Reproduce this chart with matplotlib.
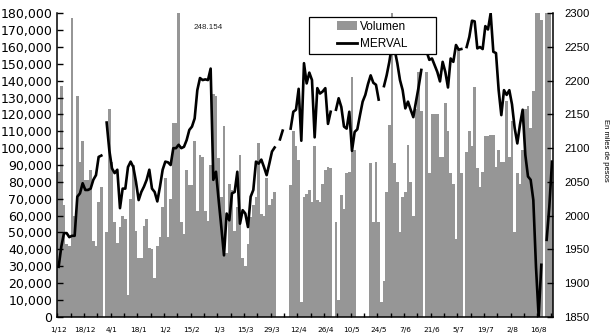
import numpy as np
import matplotlib
matplotlib.use("Agg")
import matplotlib.pyplot as plt
from matplotlib.patches import Rectangle, Patch
from matplotlib.lines import Line2D
from matplotlib.ticker import FuncFormatter

# volumen operado por rueda (miles)
volumen = [
    86, 137, 66, 43, 42, 177, 60, 131, 92, 104,
    81, 81, 87, 45, 42, 68, 77, 0, 50, 123,
    92, 56, 44, 53, 60, 58, 13, 70, 90, 51,
    35, 35, 54, 58, 41, 40, 23, 42, 47, 65,
    82, 47, 70, 115, 115, 248.154, 56, 49, 87, 78,
    78, 104, 63, 96, 95, 63, 57, 90, 132, 131,
    94, 71, 113, 38, 79, 75, 51, 65, 96, 35,
    30, 43, 59, 66, 71, 103, 61, 60, 82, 66,
    70, 74, 0, 0, 0, 0, 0, 78, 110, 101,
    93, 9, 71, 73, 75, 68, 101, 69, 68, 79,
    87, 89, 88, 0, 56, 10, 72, 64, 85, 86,
    142, 99, 0, 0, 0, 0, 0, 91, 56, 92,
    56, 9, 21, 74, 114, 190, 91, 80, 50, 71,
    74, 102, 80, 60, 123, 145, 122, 0, 145, 85,
    120, 120, 120, 95, 95, 127, 110, 85, 79, 46,
    158, 85, 0, 98, 110, 101, 136, 88, 77, 86,
    107, 107, 108, 108, 89, 99, 92, 92, 128, 95,
    116, 50, 85, 79, 99, 123, 125, 112, 134, 190,
    190, 176, 0, 190, 190, 80,
]

# indice MERVAL al cierre (nan = sin cotizacion)
nan = np.nan
merval = [
    1924, 1954, 1974, 1974, 1968, 1970, 1970, 2028, 2033, 2048,
    2038, 2038, 2040, 2053, 2060, 2087, 2089, nan, 2138, 2097,
    2070, 2063, 2068, 2011, 2040, 2040, 2072, 2080, 2072, 2050,
    2023, 2035, 2043, 2053, 2068, 2040, 2035, 2021, 2043, 2068,
    2080, 2079, 2075, 2100, 2100, 2105, 2100, 2102, 2112, 2127,
    2132, 2144, 2186, 2204, 2201, 2202, 2201, 2218, 2053, 2065,
    2023, 1983, 1941, 2003, 1993, 2033, 2035, 2065, 1988, 2008,
    2003, 1983, 2028, 2038, 2080, 2077, 2083, 2072, 2060, 2077,
    2095, 2101, nan, 2113, 2126, nan, nan, 2129, 2154, 2157,
    2188, 2111, 2226, 2196, 2212, 2201, 2116, 2189, 2181, 2184,
    2189, 2136, 2154, nan, 2157, 2174, 2161, 2132, 2129, 2154,
    2096, 2124, 2128, 2149, 2169, 2179, 2195, 2208, 2197, 2194,
    2172, nan, 2192, 2208, 2228, 2253, 2246, 2226, 2201, 2186,
    2159, 2169, 2157, 2146, 2169, 2191, 2216, nan, 2243, 2231,
    2233, 2223, 2213, 2199, 2228, 2213, 2190, 2233, 2228, 2253,
    2246, 2247, nan, 2250, 2265, 2289, 2288, 2248, 2250, 2247,
    2281, 2276, 2300, 2243, 2241, 2186, 2149, 2186, 2179, 2186,
    2165, 2130, 2107, 2135, 2157, 2090, 2058, 2053, 2023, 1924,
    1850, 1927, nan, 1964, 2013, 2080,
]

fechas = ["1/12", "18/12", "4/1", "18/1", "1/2", "15/2", "1/3", "15/3", "29/3",
          "12/4", "26/4", "10/5", "24/5", "7/6", "21/6", "5/7", "19/7", "2/8", "16/8"]
pos_fechas = list(range(0, 10 * len(fechas), 10))

gris = "#969696"
n = len(volumen)
x = np.arange(n)
vol = np.array(volumen) * 1000

fig = plt.figure(figsize=(6.11, 3.36), dpi=100)
ax = fig.add_axes([0.0938, 0.0574, 0.8118, 0.9030])

ax.bar(x, vol, width=1.0, color=gris, linewidth=0, zorder=1)
ax.set_xlim(-0.5, n - 0.5)
ax.set_ylim(0, 180000)
ax.set_yticks(np.arange(0, 180001, 10000))
ax.yaxis.set_major_formatter(FuncFormatter(lambda v, p: f"{int(v):,}"))
ax.tick_params(axis="y", direction="in", length=4, width=1, pad=3.6,
               labelsize=9, colors="black")

# marcas semanales y fechas cada dos semanas
ax.set_xticks(np.arange(-0.5, n, 5))
ax.set_xticks(pos_fechas, labels=fechas, minor=True)
ax.tick_params(axis="x", which="major", direction="in", length=3, width=1,
               labelbottom=False)
ax.tick_params(axis="x", which="minor", length=0, pad=7.5, labelsize=5.3)

for s in ["top", "right"]:
    ax.spines[s].set_visible(False)
for s in ["left", "bottom"]:
    ax.spines[s].set_linewidth(1.1)
    ax.spines[s].set_color("black")

# volumen fuera de escala
pico = max(volumen)
ax.text(56, 171500, f"{pico:.3f}", fontsize=5.8, family="Liberation Sans",
        ha="center", va="center", color="#222222")

ax2 = ax.twinx()
ax2.plot(x, merval, color="black", linewidth=1.9, zorder=2)
ax2.set_ylim(1850, 2300)
ax2.set_yticks(np.arange(1850, 2301, 50))
ax2.tick_params(axis="y", direction="in", length=4, width=1, pad=8,
                labelsize=8.1, labelfontfamily="Liberation Sans")
for s in ["top", "left", "bottom"]:
    ax2.spines[s].set_visible(False)
ax2.spines["right"].set_linewidth(1.1)

# recuadro de la leyenda
ax2.add_patch(Rectangle((0.508, 0.866), 0.2555, 0.123, transform=ax2.transAxes,
                        facecolor="white", edgecolor="black", linewidth=0.9,
                        zorder=4, clip_on=False))
handles = [Patch(facecolor=gris, edgecolor="none"),
           Line2D([], [], color="black", linewidth=2)]
ax2.legend(handles, ["Volumen", "MERVAL"], loc="center",
           bbox_to_anchor=(0.6357, 0.9275), bbox_transform=ax2.transAxes,
           frameon=False, prop={"family": "Liberation Sans", "size": 8.5},
           handlelength=1.7, handletextpad=0.25, labelspacing=0.45,
           borderpad=0.2)

fig.text(0.9918, 1 - 150 / 336, "En miles de pesos", rotation=270,
         fontsize=5.5, family="Liberation Sans", ha="center", va="center")

fig.savefig("out.png", dpi=100)
